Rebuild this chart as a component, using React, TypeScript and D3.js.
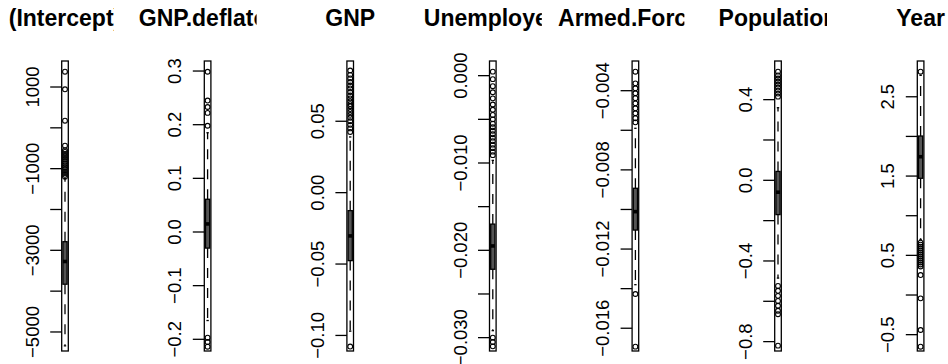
import React from "react";
import * as d3 from "d3";

// coefficient names (panel titles)
const variables = ["(Intercept)", "GNP.deflator", "GNP", "Unemployed", "Armed.Forces", "Population", "Year"];

// boxplot statistics
const lowerWhisker = [-5340, -0.165, -0.097, -0.0292, -0.0138, -0.485, 0.7];
const q1 = [-3830, -0.03, -0.0476, -0.02217, -0.01104, -0.17, 1.472];
const median = [-3274, 0.015, -0.0303, -0.0195, -0.01011, -0.059, 1.744];
const q3 = [-2789, 0.061, -0.0126, -0.017, -0.00893, 0.044, 2.005];
const upperWhisker = [-1240, 0.185, 0.039, -0.0097, -0.0059, 0.36, 2.77];

const outliers = [
  [1375, 944, 175, -438, -545, -590, -640, -690, -735, -780, -830, -875, -920, -965, -1010, -1060, -1105, -1150, -1200],
  [0.2987, 0.245, 0.233, 0.222, 0.198, -0.197, -0.205, -0.2138],
  [0.0855, 0.0825, 0.08, 0.0775, 0.075, 0.073, 0.0705, 0.068, 0.066, 0.064, 0.062, 0.0605, 0.0585, 0.0565, 0.0545,
    0.0525, 0.05, 0.0475, 0.045, 0.0425, -0.1078],
  [0.00046, -0.0004, -0.0012, -0.0019, -0.0026, -0.0033, -0.0039, -0.0045, -0.005, -0.0055, -0.0059, -0.0063,
    -0.0067, -0.0071, -0.0075, -0.0079, -0.0083, -0.0087, -0.0091, -0.03, -0.0305, -0.031],
  [-0.00304, -0.00363, -0.00388, -0.00413, -0.00438, -0.00464, -0.00489, -0.00514, -0.00539, -0.0056, -0.01427, -0.01693],
  [0.539, 0.52, 0.505, 0.49, 0.475, 0.46, 0.445, 0.43, 0.415, -0.524, -0.548, -0.573, -0.598, -0.622, -0.647, -0.664, -0.82],
  [2.816, 0.66, 0.635, 0.61, 0.585, 0.56, 0.535, 0.51, 0.485, 0.46, 0.435, 0.41, 0.385, 0.36, 0.252, -0.042, -0.441, -0.652],
];

// y axis limits of each panel
const yLimits = [
  [-5466, 1637],
  [-0.2218, 0.3187],
  [-0.1109, 0.0922],
  [-0.03153, 0.00168],
  [-0.01715, -0.0025],
  [-0.8465, 0.5917],
  [-0.706, 2.951],
];

const tickValues = [
  [-5000, -4000, -3000, -2000, -1000, 0, 1000],
  [-0.2, -0.1, 0, 0.1, 0.2, 0.3],
  [-0.1, -0.05, 0, 0.05],
  [-0.03, -0.025, -0.02, -0.015, -0.01, -0.005, 0],
  [-0.016, -0.014, -0.012, -0.01, -0.008, -0.006, -0.004],
  [-0.8, -0.6, -0.4, -0.2, 0, 0.2, 0.4],
  [-0.5, 0, 0.5, 1, 1.5, 2, 2.5],
];
// "" = tick without label (R drops overlapping labels)
const tickLabels = [
  ["−5000", "", "−3000", "", "−1000", "", "1000"],
  ["−0.2", "−0.1", "0.0", "0.1", "0.2", "0.3"],
  ["−0.10", "−0.05", "0.00", "0.05"],
  ["−0.030", "", "−0.020", "", "−0.010", "", "0.000"],
  ["−0.016", "", "−0.012", "", "−0.008", "", "−0.004"],
  ["−0.8", "", "−0.4", "", "0.0", "", "0.4"],
  ["−0.5", "", "0.5", "", "1.5", "", "2.5"],
];

const W = 948;
const H = 364;
const frameTop = 61;
const frameBottom = 351;
const frameHalf = 3.3;
const boxHalf = 2.1;
const stapleHalf = 1.2;
const step = 142.6;
const font = "'Liberation Sans', Arial, Helvetica, sans-serif";
const lw = 1.3;

const centerX = d3.scaleLinear().domain([0, 1]).range([65, 65 + step]);

const Panel = ({ i }: { i: number }) => {
  const y = d3.scaleLinear().domain(yLimits[i]).range([frameBottom, frameTop]);
  const cx = centerX(i);
  const left = cx - frameHalf;
  const clipRight = 114 + step * i;
  return (
    <g>
      <clipPath id={`title-clip-${i}`}>
        <rect x={clipRight - step} y={0} width={step} height={50} />
      </clipPath>
      <text
        x={cx}
        y={26}
        textAnchor="middle"
        fontFamily={font}
        fontWeight="bold"
        fontSize={23}
        clipPath={`url(#title-clip-${i})`}
      >
        {variables[i]}
      </text>

      {/* whiskers */}
      <line x1={cx} x2={cx} y1={y(q3[i])} y2={y(upperWhisker[i])} stroke="#000" strokeWidth={lw} strokeDasharray="10 10" />
      <line x1={cx} x2={cx} y1={y(q1[i])} y2={y(lowerWhisker[i])} stroke="#000" strokeWidth={lw} strokeDasharray="10 10" />
      <line x1={cx - stapleHalf} x2={cx + stapleHalf} y1={y(upperWhisker[i])} y2={y(upperWhisker[i])} stroke="#000" strokeWidth={lw} />
      <line x1={cx - stapleHalf} x2={cx + stapleHalf} y1={y(lowerWhisker[i])} y2={y(lowerWhisker[i])} stroke="#000" strokeWidth={lw} />

      {/* box */}
      <rect
        x={cx - boxHalf}
        y={y(q3[i])}
        width={boxHalf * 2}
        height={y(q1[i]) - y(q3[i])}
        fill="#555"
        stroke="#000"
        strokeWidth={lw}
      />
      <line x1={cx - boxHalf} x2={cx + boxHalf} y1={y(median[i])} y2={y(median[i])} stroke="#000" strokeWidth={3.6} />

      {/* outliers */}
      {outliers[i].map((v, k) => (
        <circle key={k} cx={cx} cy={y(v)} r={2.4} fill="none" stroke="#000" strokeWidth={1.1} />
      ))}

      {/* frame */}
      <rect x={left} y={frameTop} width={frameHalf * 2} height={frameBottom - frameTop} fill="none" stroke="#000" strokeWidth={lw} />

      {/* y axis */}
      {tickValues[i].map((t, k) => (
        <g key={k}>
          <line x1={left - 11.5} x2={left} y1={y(t)} y2={y(t)} stroke="#000" strokeWidth={lw} />
          {tickLabels[i][k] && (
            <text
              transform={`translate(${left - 23},${y(t)}) rotate(-90)`}
              textAnchor="middle"
              fontFamily={font}
              fontSize={18.5}
            >
              {tickLabels[i][k]}
            </text>
          )}
        </g>
      ))}
    </g>
  );
};

export default function App() {
  return (
    <svg width={W} height={H} style={{ position: "absolute", left: 0, top: 0, background: "#fff" }}>
      {variables.map((_, i) => (
        <Panel key={i} i={i} />
      ))}
    </svg>
  );
}
